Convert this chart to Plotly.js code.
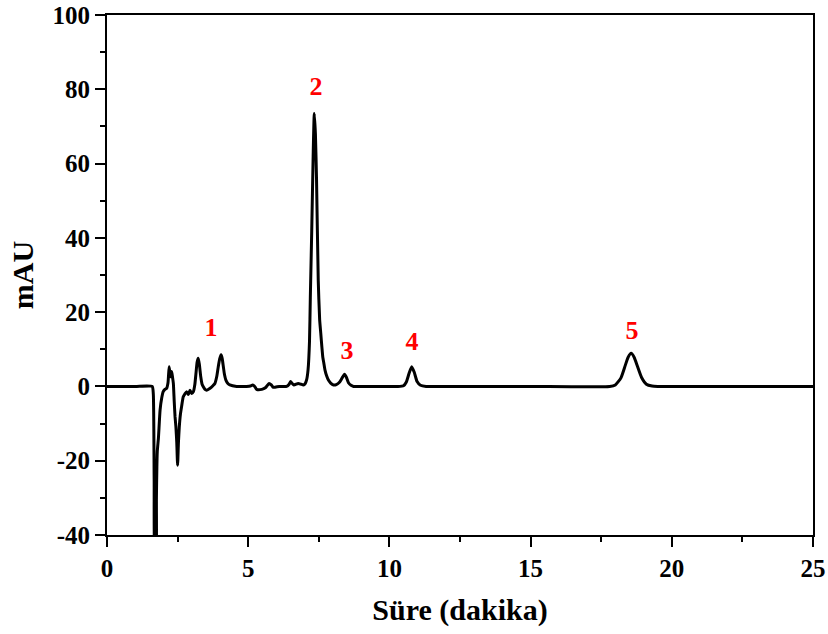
<!DOCTYPE html>
<html>
<head>
<meta charset="utf-8">
<script src="https://cdn.plot.ly/plotly-3.0.1.min.js"></script>
<style>
  html, body { margin: 0; padding: 0; background: #fff; }
  #chart { width: 828px; height: 634px; }
</style>
</head>
<body>
<div id="chart"></div>
<script>
// Chromatogram: retention time (min) vs detector response (mAU)
const timeMin = [
  0, 1.0, 1.60, 1.64, 1.67, 1.70, 1.73, 1.75, 1.78, 1.82, 1.88, 1.94, 1.99, 2.05, 2.11, 2.16, 2.20,
  2.23, 2.25, 2.29, 2.32, 2.35, 2.38, 2.41, 2.44, 2.47, 2.50, 2.53, 2.56, 2.60, 2.64, 2.70,
  2.76, 2.82, 2.88, 2.94, 3.00, 3.06, 3.11, 3.15, 3.19, 3.23, 3.27, 3.32, 3.37, 3.41, 3.47,
  3.53, 3.65, 3.75, 3.82, 3.89, 3.94, 3.99, 4.04, 4.08, 4.12, 4.16, 4.21, 4.28, 4.35, 4.59,
  4.94, 5.08, 5.16, 5.23, 5.30, 5.48, 5.62, 5.74, 5.82, 5.89, 6.10, 6.36, 6.45, 6.50, 6.56,
  6.62, 6.77, 6.87, 6.95, 7.02, 7.07, 7.12, 7.17, 7.20, 7.25, 7.30, 7.34, 7.38, 7.42, 7.48,
  7.53, 7.57, 7.61, 7.64, 7.68, 7.72, 7.78, 7.84, 7.92, 8.02, 8.12, 8.24, 8.32, 8.41,
  8.48, 8.55, 8.64, 8.73, 9.2, 10.0, 10.3, 10.5, 10.6, 10.7, 10.79, 10.88, 10.98, 11.1,
  11.3, 12.5, 15.0, 17.8, 18.0, 18.2, 18.35, 18.45, 18.56, 18.67, 18.78, 18.93, 19.1, 19.3,
  19.5, 22.0, 25.0
];
const signalMAU = [
  0, 0, 0, -2, -25, -48, -48, -30, -17.6, -14, -6.3, -3.0, -1.4, -0.8, -0.5, 1.0, 5.3,
  3.5, 2.6, 4.0, 2.5, 0.8, -4.0, -8.2, -10.9, -15.0, -21.2, -15.0, -10.9, -7.5, -5.5, -2.8,
  -2.0, -1.4, -2.2, -1.0, -1.9, -1.4, 0.5, 3.5, 6.5, 7.6, 6.0, 2.6, 0.5, -0.1, -0.8,
  -1.0, -0.5, 0.2, 0.8, 2.8, 5.3, 7.4, 8.5, 7.5, 5.3, 3.2, 1.7, 0.8, 0.4, 0,
  0, 0.1, 0.4, 0, -0.8, -0.8, -0.3, 0.8, 0.4, -0.25, 0, 0, 0.6, 1.3, 0.8,
  0.4, 0.8, 0.6, 0.4, 0.8, 1.8, 4.5, 12.0, 24.0, 42.0, 62.0, 73.5, 68.0, 55.6, 28.6,
  18.0, 14.3, 10.5, 8.0, 6.2, 4.4, 2.8, 1.7, 0.9, 0.4, 0.5, 1.2, 2.2, 3.3,
  2.4, 1.0, 0.3, 0, 0, 0, 0, 0.2, 1.2, 3.6, 5.3, 3.8, 1.3, 0.3,
  0, 0, 0, 0, 0.4, 2.3, 5.6, 7.8, 8.9, 7.8, 5.5, 2.4, 0.6, 0.1,
  0, 0, 0
];

// Peak numbering
const peakNames = ['1', '2', '3', '4', '5'];
const peakLabelX = [3.68, 7.40, 8.50, 10.80, 18.59];
const peakLabelY = [15.2, 80.2, 9.2, 11.6, 14.6];

const xTicks = [0, 5, 10, 15, 20, 25];
const yTicks = [-40, -20, 0, 20, 40, 60, 80, 100];

const serif = 'Liberation Serif, Times New Roman, serif';

const trace = {
  x: timeMin,
  y: signalMAU,
  type: 'scatter',
  mode: 'lines',
  line: { color: '#000', width: 3, shape: 'spline', smoothing: 0.5 },
  hoverinfo: 'skip'
};

const labels = {
  x: peakLabelX,
  y: peakLabelY,
  text: peakNames,
  type: 'scatter',
  mode: 'text',
  textfont: { family: serif, size: 26, color: '#ff0000', weight: 700 },
  textposition: 'middle center',
  cliponaxis: false,
  hoverinfo: 'skip'
};

const axisCommon = {
  showline: true,
  linecolor: '#000',
  linewidth: 2,
  mirror: true,
  showgrid: false,
  zeroline: false,
  ticks: 'outside',
  ticklen: 10,
  tickwidth: 2,
  tickcolor: '#000',
  tickfont: { family: serif, size: 25, color: '#000', weight: 700 }
};

const layout = {
  width: 828,
  height: 634,
  margin: { l: 107, r: 15, t: 15, b: 99 },
  paper_bgcolor: '#fff',
  plot_bgcolor: '#fff',
  showlegend: false,
  xaxis: Object.assign({}, axisCommon, {
    range: [0, 25],
    tickvals: xTicks,
    ticktext: xTicks.map(String),
    minor: { dtick: 2.5, tick0: 0, ticks: 'outside', ticklen: 5, tickwidth: 2, tickcolor: '#000' },
    title: { text: 'Süre (dakika)', font: { family: serif, size: 30, color: '#000', weight: 700 }, standoff: 18 }
  }),
  yaxis: Object.assign({}, axisCommon, {
    range: [-40, 100],
    tickvals: yTicks,
    ticktext: yTicks.map(String),
    minor: { dtick: 10, tick0: 0, ticks: 'outside', ticklen: 5, tickwidth: 2, tickcolor: '#000' },
    title: { text: 'mAU', font: { family: serif, size: 30, color: '#000', weight: 700 }, standoff: 10 }
  })
};

Plotly.newPlot('chart', [trace, labels], layout, { displayModeBar: false, staticPlot: true });
</script>
</body>
</html>
